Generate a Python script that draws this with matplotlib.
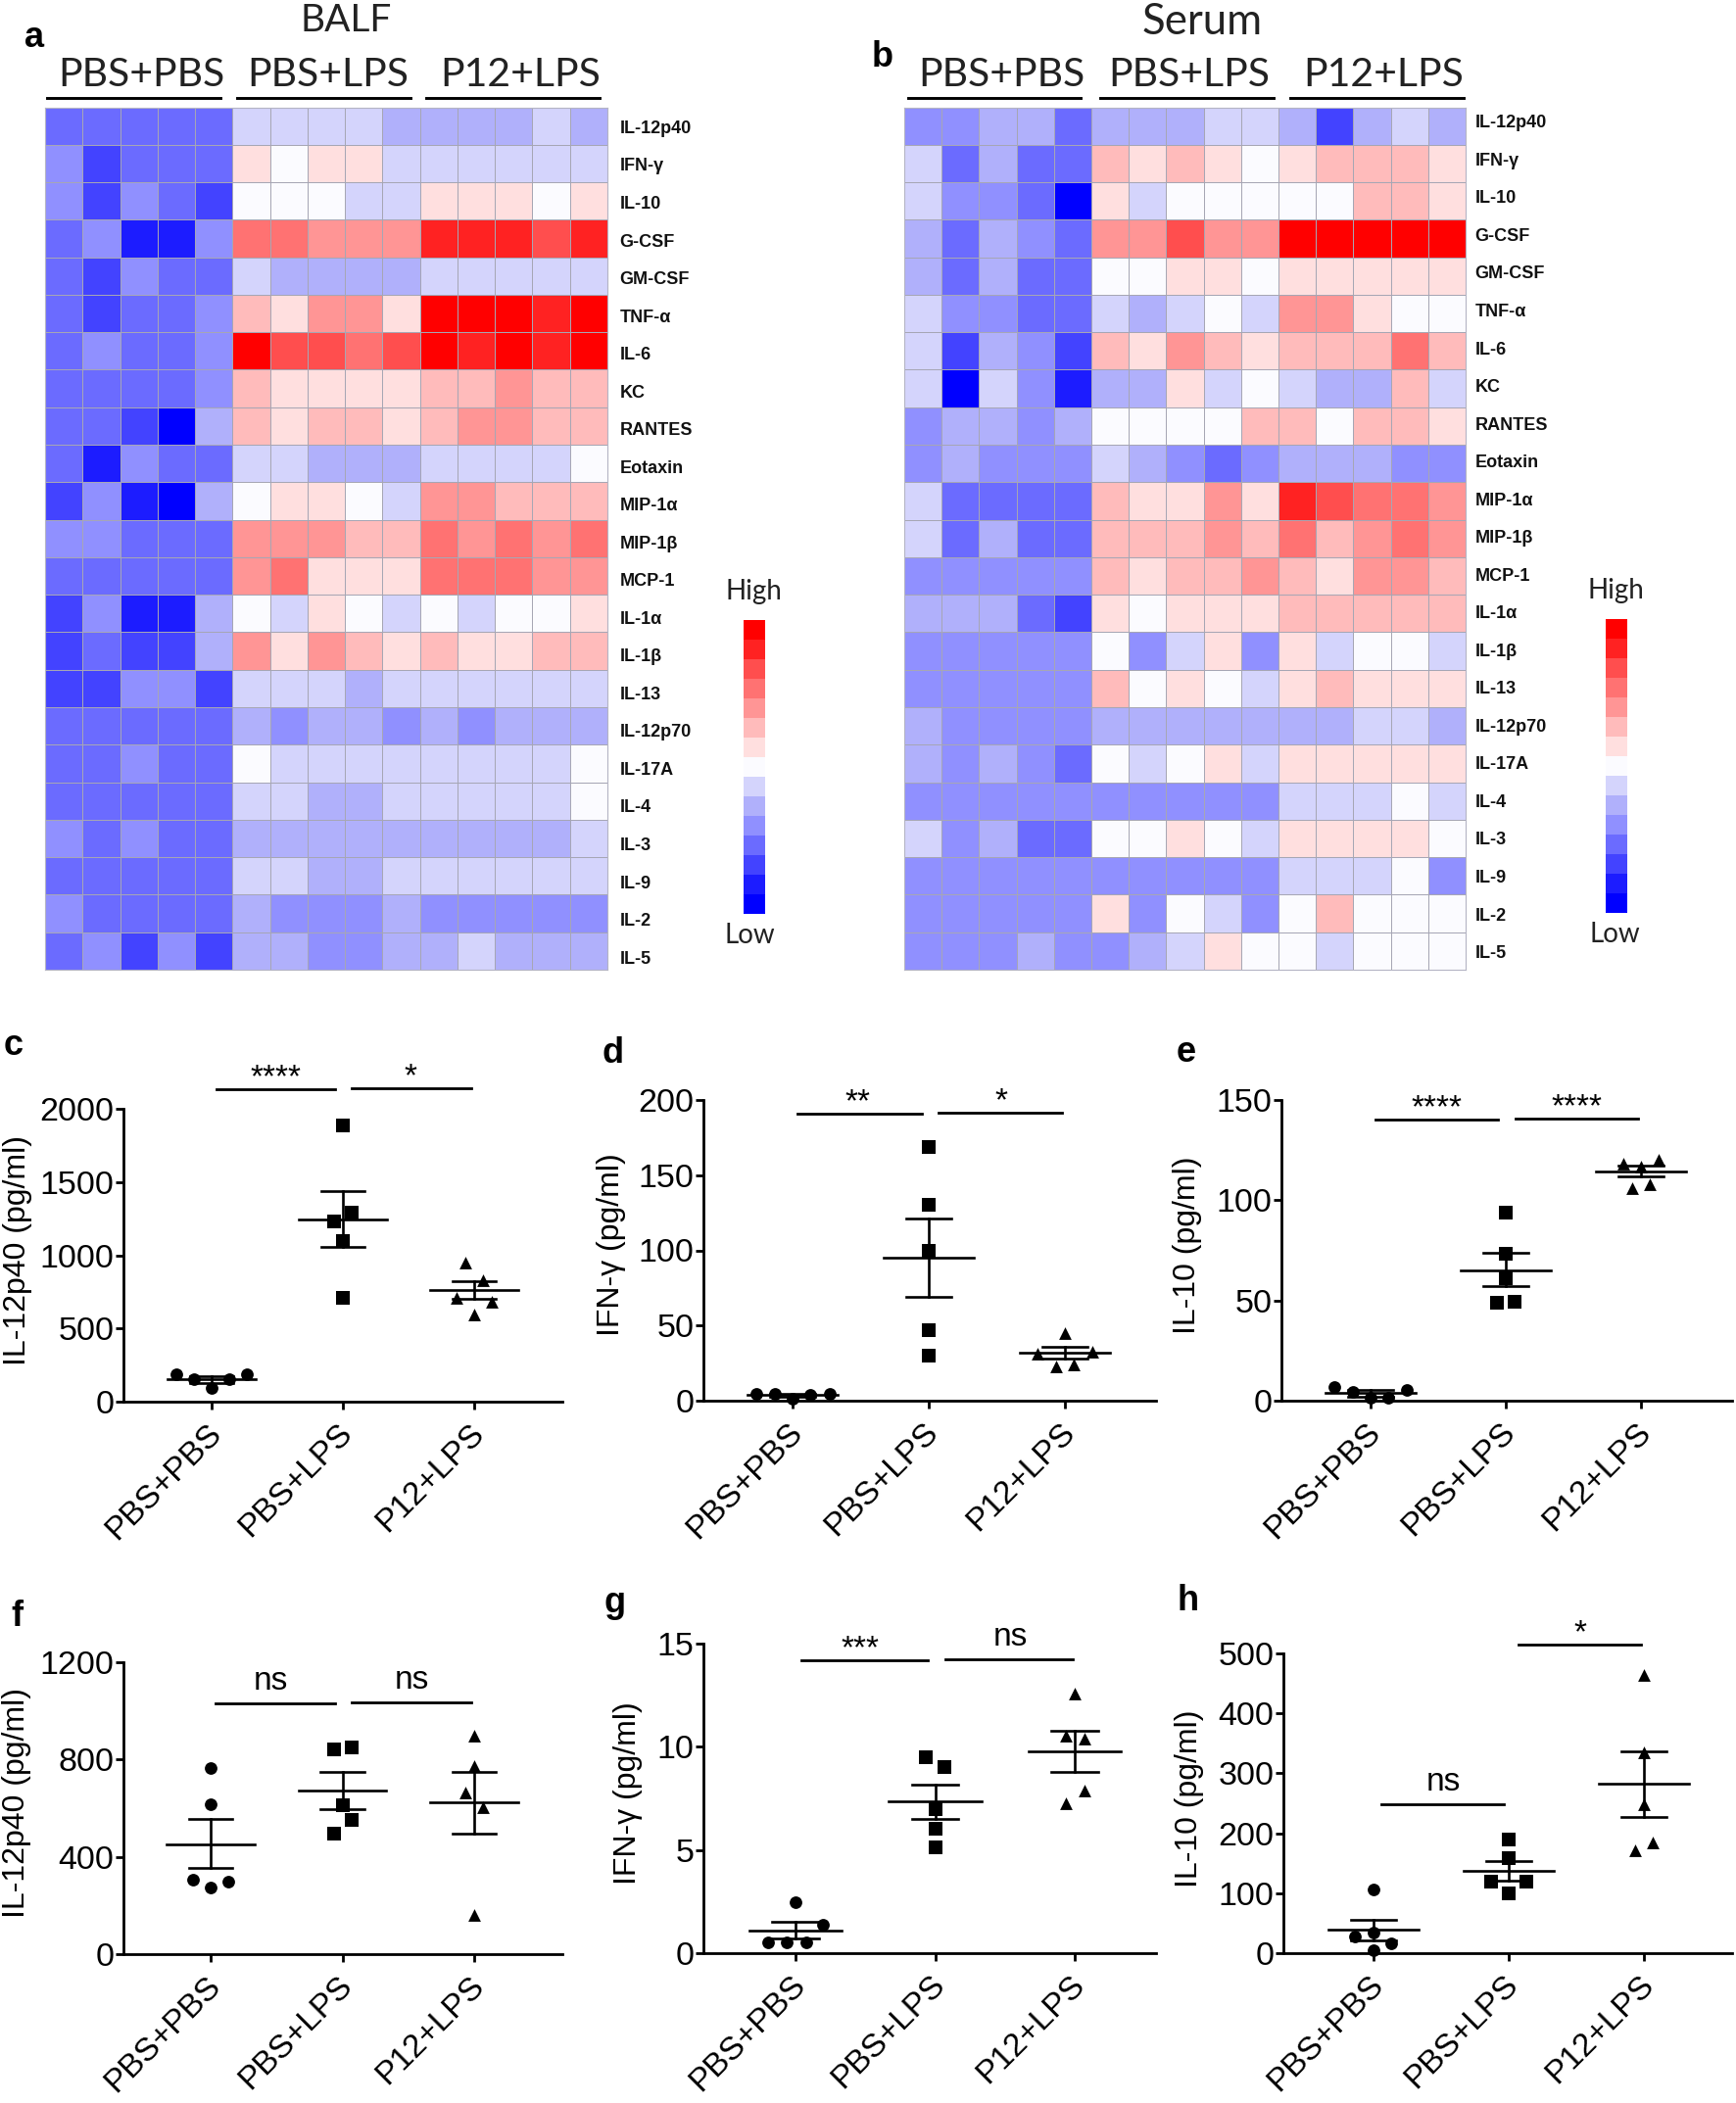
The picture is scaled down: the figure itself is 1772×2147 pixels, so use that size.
import matplotlib
matplotlib.use('Agg')
import matplotlib.pyplot as plt
from matplotlib.colors import ListedColormap, BoundaryNorm
from matplotlib.transforms import ScaledTranslation
import numpy as np

W, H = 1772, 2147
ARIAL = 'Liberation Sans'

cytokines = ['IL-12p40', 'IFN-γ', 'IL-10', 'G-CSF', 'GM-CSF', 'TNF-α', 'IL-6', 'KC', 'RANTES',
             'Eotaxin', 'MIP-1α', 'MIP-1β', 'MCP-1', 'IL-1α', 'IL-1β', 'IL-13', 'IL-12p70',
             'IL-17A', 'IL-4', 'IL-3', 'IL-9', 'IL-2', 'IL-5']
groups = ['PBS+PBS', 'PBS+LPS', 'P12+LPS']

level_colors = ['#0000ff', '#1c1cff', '#4343ff', '#6b6bff', '#9090ff', '#b0b0fb', '#d4d4fc', '#fbfbff',
                '#ffdfdf', '#ffbbbb', '#ff9595', '#ff7272', '#ff4e4e', '#ff2222', '#ff0000']

# colour level of each cell, 0 = lowest, 14 = highest
balf = [
    [3, 3, 3, 3, 3, 6, 6, 6, 6, 5, 5, 5, 5, 6, 5],
    [4, 2, 3, 3, 3, 8, 7, 8, 8, 6, 6, 6, 6, 6, 6],
    [4, 2, 4, 3, 2, 7, 7, 7, 6, 6, 8, 8, 8, 7, 8],
    [3, 4, 1, 1, 4, 11, 11, 10, 10, 10, 13, 13, 13, 12, 13],
    [3, 2, 4, 3, 3, 6, 5, 5, 5, 5, 6, 6, 6, 6, 6],
    [3, 2, 3, 3, 4, 9, 8, 10, 10, 8, 14, 14, 14, 13, 14],
    [3, 4, 3, 3, 4, 14, 12, 12, 11, 12, 14, 13, 14, 13, 14],
    [3, 3, 3, 3, 4, 9, 8, 8, 8, 8, 9, 9, 10, 9, 9],
    [3, 3, 2, 0, 5, 9, 8, 9, 9, 8, 9, 10, 10, 9, 9],
    [3, 1, 4, 3, 3, 6, 6, 5, 5, 5, 6, 6, 6, 6, 7],
    [2, 4, 1, 0, 5, 7, 8, 8, 7, 6, 10, 10, 9, 9, 9],
    [4, 4, 3, 3, 3, 10, 10, 10, 9, 9, 11, 10, 11, 10, 11],
    [3, 3, 3, 3, 3, 10, 11, 8, 8, 8, 11, 11, 11, 10, 10],
    [2, 4, 1, 1, 5, 7, 6, 8, 7, 6, 7, 6, 7, 7, 8],
    [2, 3, 2, 2, 5, 10, 8, 10, 9, 8, 9, 8, 8, 9, 9],
    [2, 2, 4, 4, 2, 6, 6, 6, 5, 6, 6, 6, 6, 6, 6],
    [3, 3, 3, 3, 3, 5, 4, 5, 5, 4, 5, 4, 5, 5, 5],
    [3, 3, 4, 3, 3, 7, 6, 6, 6, 6, 6, 6, 6, 6, 7],
    [3, 3, 3, 3, 3, 6, 6, 5, 5, 6, 6, 6, 6, 6, 7],
    [4, 3, 4, 3, 3, 5, 5, 5, 5, 5, 5, 5, 5, 5, 6],
    [3, 3, 3, 3, 3, 6, 6, 5, 5, 6, 6, 6, 6, 6, 6],
    [4, 3, 3, 3, 3, 5, 4, 4, 4, 5, 4, 4, 4, 4, 4],
    [3, 4, 2, 4, 2, 5, 5, 4, 4, 5, 5, 6, 5, 5, 5],
]
serum = [
    [4, 4, 5, 5, 3, 5, 5, 5, 6, 6, 5, 2, 5, 6, 5],
    [6, 3, 5, 3, 3, 9, 8, 9, 8, 7, 8, 9, 9, 9, 8],
    [6, 4, 4, 3, 0, 8, 6, 7, 7, 7, 7, 7, 9, 9, 8],
    [5, 3, 5, 4, 3, 10, 10, 12, 10, 10, 14, 14, 14, 14, 14],
    [5, 3, 5, 3, 3, 7, 7, 8, 8, 7, 8, 8, 8, 8, 8],
    [6, 4, 4, 3, 3, 6, 5, 6, 7, 6, 10, 10, 8, 7, 7],
    [6, 2, 5, 4, 2, 9, 8, 10, 9, 8, 9, 9, 9, 11, 9],
    [6, 0, 6, 4, 1, 5, 5, 8, 6, 7, 6, 5, 5, 9, 6],
    [4, 5, 5, 4, 5, 7, 7, 7, 7, 9, 9, 7, 9, 9, 8],
    [4, 5, 4, 4, 4, 6, 5, 4, 3, 4, 5, 5, 5, 4, 4],
    [6, 3, 3, 3, 3, 9, 8, 8, 10, 8, 13, 12, 11, 11, 10],
    [6, 3, 5, 3, 3, 9, 9, 9, 10, 9, 11, 9, 10, 11, 10],
    [4, 4, 4, 4, 4, 9, 8, 9, 9, 10, 9, 8, 10, 10, 9],
    [5, 5, 5, 3, 2, 8, 7, 8, 8, 8, 9, 9, 9, 9, 9],
    [4, 4, 4, 4, 4, 7, 4, 6, 8, 4, 8, 6, 7, 7, 6],
    [4, 4, 4, 4, 4, 9, 7, 8, 7, 6, 8, 9, 8, 8, 8],
    [5, 4, 4, 4, 4, 5, 5, 5, 5, 5, 5, 5, 6, 6, 5],
    [5, 4, 5, 4, 3, 7, 6, 7, 8, 6, 8, 8, 8, 8, 8],
    [4, 4, 4, 4, 4, 4, 4, 4, 4, 4, 6, 6, 6, 7, 6],
    [6, 4, 5, 3, 3, 7, 7, 8, 7, 6, 8, 8, 8, 8, 7],
    [4, 4, 4, 4, 4, 4, 4, 4, 4, 4, 6, 6, 6, 7, 4],
    [4, 4, 4, 4, 4, 8, 4, 7, 6, 4, 7, 9, 7, 7, 7],
    [4, 4, 4, 5, 4, 4, 5, 6, 8, 7, 7, 6, 7, 7, 7],
]

# panel c
c_off = [[-.27, -.134, 0, .134, .27], [0, .066, -.07, 0, 0], [-.07, .07, -.137, .135, 0]]
c_val = [[187, 153, 92, 153, 187], [1887, 1290, 1232, 1094, 712], [950, 828, 712, 682, 597]]
c_mean = [153, 1246, 763]
c_upper = [176, 1436, 823]
c_lower = [130, 1054, 700]
c_sig = [(.034, .943, 2132, '****', .486), (1.07, 1.98, 2141, '*', 1.514)]
# panel d
d_off = [[-.267, -.13, 0, .133, .27], [0, 0, 0, 0, 0], [0, -.2, .2, -.065, .068]]
d_val = [[4.7, 4.5, 1.6, 4, 4.7], [169, 130, 99.5, 46.6, 30], [45, 31.4, 32.3, 23, 24]]
d_mean = [3.8, 95, 32]
d_upper = [4.6, 121, 36]
d_lower = [2.6, 69, 28]
d_sig = [(.038, .947, 190.8, '**', .48), (1.072, 1.981, 191.7, '*', 1.53)]
# panel e
e_off = [[-.27, -.13, 0, .133, .27], [0, 0, 0, -.068, .068], [-.133, 0, .134, -.065, .068]]
e_val = [[6.7, 4.5, 1.7, 1.7, 5.4], [93.7, 73.5, 61, 48.8, 49.4], [118.4, 117, 120, 106, 108]]
e_mean = [4, 65, 114.5]
e_upper = [5.4, 74, 117.5]
e_lower = [2, 57, 112]
e_sig = [(.038, .945, 140.2, '****', .486), (1.074, 1.98, 140.7, '****', 1.526)]
# panel f
f_off = [[0, 0, -.137, 0, .134], [-.066, .068, 0, .068, -.066], [0, 0, -.068, .065, 0]]
f_val = [[765, 615, 307, 275, 297], [840, 851, 612, 550, 497], [899, 773, 663, 605, 160]]
f_mean = [452, 671, 624]
f_upper = [554, 747, 751]
f_lower = [354, 597, 497]
f_sig = [(.034, .946, 1030, 'ns', .46), (1.07, 1.98, 1036, 'ns', 1.53)]
# panel g
g_off = [[0, .198, -.198, -.06, .074], [-.066, .066, 0, 0, 0], [0, -.063, .071, .071, -.063]]
g_val = [[2.45, 1.36, .52, .52, .52], [9.48, 9, 6.96, 6.04, 5.13], [12.6, 10.55, 10.4, 7.9, 7.25]]
g_mean = [1.09, 7.34, 9.79]
g_upper = [1.5, 8.17, 10.76]
g_lower = [.7, 6.5, 8.8]
g_sig = [(.04, .95, 14.19, '***', .466), (1.077, 1.984, 14.24, 'ns', 1.54)]
# panel h
h_off = [[0, 0, -.136, .134, 0], [0, 0, -.134, .134, 0], [0, 0, 0, .068, -.068]]
h_val = [[107, 35, 28, 17, 4.5], [190, 158, 120, 120, 99], [464, 335, 248, 184, 171]]
h_mean = [39, 138, 282]
h_upper = [56, 154, 336]
h_lower = [22, 121, 227]
h_sig = [(.06, .967, 249, 'ns', .518), (1.07, 1.98, 514.5, '*', 1.526)]

plt.rcParams['font.family'] = ARIAL
fig = plt.figure(figsize=(W / 100, H / 100), dpi=100)


def axes_px(left, top, right, bottom):
    return fig.add_axes([left / W, 1 - bottom / H, (right - left) / W, (bottom - top) / H])


def text_px(x, y, s, **kw):
    fig.text(x / W, 1 - y / H, s, **kw)


def rule_px(x0, x1, y):
    fig.add_artist(plt.Line2D([x0 / W, x1 / W], [1 - y / H, 1 - y / H], color='black', lw=2.1))


cmap = ListedColormap(level_colors)
norm = BoundaryNorm(np.arange(-.5, 15), 15)


def heatmap(values, left, right, label_dx, label_dy):
    ax = axes_px(left, 109.5, right, 990)
    ax.pcolormesh(np.array(values), cmap=cmap, norm=norm, edgecolors='#a6a6b4', linewidth=0.5)
    ax.set_ylim(len(values), 0)
    ax.set_xticks([])
    ax.set_yticks([])
    for s in ax.spines.values():
        s.set_color('#b4b4c4')
        s.set_linewidth(0.8)
    # the row labels run slightly wider than the rows
    for i, name in enumerate(cytokines):
        ax.annotate(name, (1, .5 + i * 1.0065), xycoords=('axes fraction', 'data'),
                    xytext=(label_dx, label_dy), textcoords='offset points', family=ARIAL,
                    fontsize=13, fontweight='bold', va='center', color='#111111')


def colorbar(left, top):
    ax = axes_px(left, top, left + 22, top + 300)
    ax.pcolormesh(np.arange(15)[::-1].reshape(-1, 1), cmap=cmap, norm=norm)
    ax.set_ylim(15, 0)
    ax.axis('off')


heatmap(balf, 46, 620, 9, -2)
heatmap(serum, 923, 1496, 7, 2)
colorbar(759, 633)
colorbar(1639, 632)

lato = dict(family='Lato', color='#222222')
text_px(353, 32, 'BALF', fontsize=28, ha='center', va='baseline', **lato)
text_px(1227, 35, 'Serum', fontsize=31.5, ha='center', va='baseline', **lato)
for x, s in zip([144, 335, 531], groups):
    text_px(x, 88, s, fontsize=29.5, ha='center', va='baseline', **lato)
for x, s in zip([1022, 1214, 1412], groups):
    text_px(x, 88, s, fontsize=29.5, ha='center', va='baseline', **lato)
for x0, x1 in [(48, 225), (242, 419), (435, 612), (927, 1103), (1123, 1300), (1317, 1494)]:
    rule_px(x0, x1, 100)
text_px(769, 612, 'High', fontsize=20, ha='center', va='baseline', **lato)
text_px(765, 963, 'Low', fontsize=20, ha='center', va='baseline', **lato)
text_px(1649, 611, 'High', fontsize=20, ha='center', va='baseline', **lato)
text_px(1648, 962, 'Low', fontsize=20, ha='center', va='baseline', **lato)

for x, y, s in [(25, 48, 'a'), (890, 68, 'b'), (4, 1077, 'c'), (615, 1085, 'd'), (1201, 1084, 'e'),
                (11, 1660, 'f'), (617, 1646, 'g'), (1201, 1644, 'h')]:
    text_px(x, y, s, family=ARIAL, fontsize=26, fontweight='bold', ha='left', va='baseline')

markers = ['o', 's', '^']
sizes = [85, 90, 85]
label_shift = ScaledTranslation(5 / 100, 0, fig.dpi_scale_trans)


def dotplot(off, val, mean, upper, lower, sig, box, ymax, yticks, ylabel, label_xy):
    left, top, right, bottom, t0, t2 = box
    step = (t2 - t0) / 2
    ax = axes_px(left, top, right, bottom)
    ax.set_xlim((left - t0) / step, (right - t0) / step)
    ax.set_ylim(0, ymax)
    for i in range(3):
        ax.scatter(i + np.array(off[i]), val[i], marker=markers[i], s=sizes[i], color='black',
                   linewidths=0, clip_on=False, zorder=3)
        ax.plot([i - .333, i + .333], [mean[i], mean[i]], color='black', lw=1.9, clip_on=False, zorder=4)
        ax.plot([i, i], [lower[i], upper[i]], color='black', lw=1.9, zorder=4)
        for v in (lower[i], upper[i]):
            ax.plot([i - .165, i + .165], [v, v], color='black', lw=1.9, zorder=4)
    for x0, x1, y, s, tx in sig:
        ax.plot([x0, x1], [y, y], color='black', lw=2.0, clip_on=False)
        dy = 10 if s == 'ns' else 2
        ax.annotate(s, (tx, y), xytext=(0, dy), textcoords='offset points', ha='center', family=ARIAL,
                    va='baseline', fontsize=24, annotation_clip=False)
    for name in ('top', 'right'):
        ax.spines[name].set_visible(False)
    for name in ('left', 'bottom'):
        ax.spines[name].set_linewidth(2.0)
    ax.set_xticks([0, 1, 2])
    ax.set_xticklabels(groups, rotation=45, ha='right', va='center', rotation_mode='anchor', fontsize=24)
    ax.set_yticks(yticks)
    ax.tick_params(axis='both', length=6, width=2.0, labelsize=24, labelfontfamily=ARIAL)
    ax.tick_params(axis='y', pad=1, labelsize=24.5)
    ax.tick_params(axis='x', pad=14)
    for lab in ax.get_xticklabels():
        lab.set_transform(lab.get_transform() + label_shift)
    text_px(label_xy[0], label_xy[1], ylabel, family=ARIAL, rotation=90, fontsize=23, ha='center', va='center')
    return ax


dotplot(c_off, c_val, c_mean, c_upper, c_lower, c_sig, (126, 1132, 574, 1431, 216, 484),
        2000, [0, 500, 1000, 1500, 2000], 'IL-12p40 (pg/ml)', (18, 1276))
dotplot(d_off, d_val, d_mean, d_upper, d_lower, d_sig, (718, 1123, 1180, 1430, 809, 1087),
        200, [0, 50, 100, 150, 200], 'IFN-γ (pg/ml)', (624, 1271))
dotplot(e_off, e_val, e_mean, e_upper, e_lower, e_sig, (1308, 1123, 1768, 1430, 1399, 1675),
        150, [0, 50, 100, 150], 'IL-10 (pg/ml)', (1212, 1271))
dotplot(f_off, f_val, f_mean, f_upper, f_lower, f_sig, (126, 1697, 574, 1995, 215, 484),
        1200, [0, 400, 800, 1200], 'IL-12p40 (pg/ml)', (17, 1841))
dotplot(g_off, g_val, g_mean, g_upper, g_lower, g_sig, (718, 1678, 1180, 1994, 812, 1097),
        15, [0, 5, 10, 15], 'IFN-γ (pg/ml)', (641, 1831))
dotplot(h_off, h_val, h_mean, h_upper, h_lower, h_sig, (1310, 1688, 1768, 1994, 1402, 1678),
        500, [0, 100, 200, 300, 400, 500], 'IL-10 (pg/ml)', (1214, 1836))

fig.savefig('out.png', dpi=100, facecolor='white')
